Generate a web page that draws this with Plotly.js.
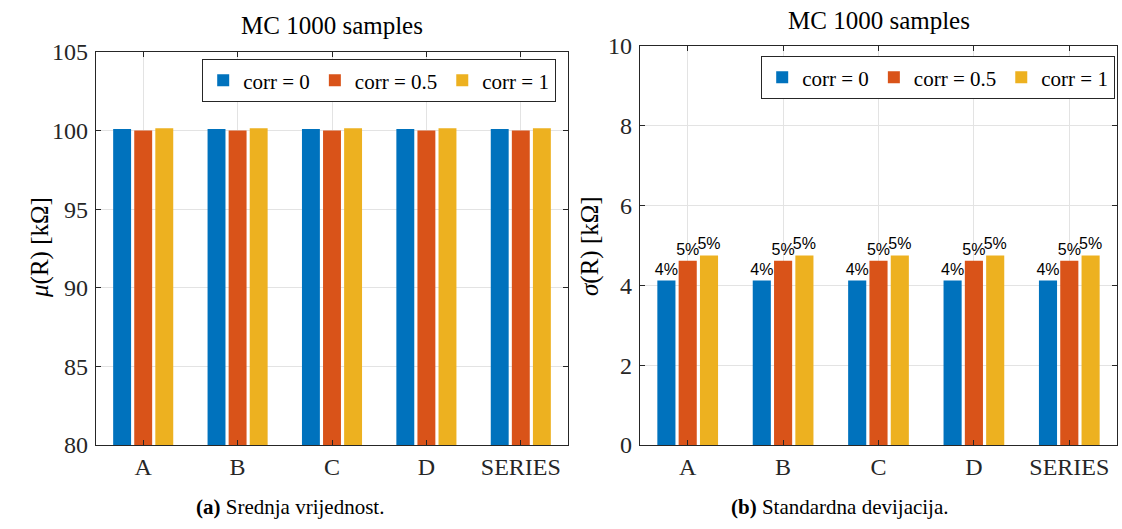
<!DOCTYPE html>
<html>
<head>
<meta charset="utf-8">
<script src="https://cdn.plot.ly/plotly-3.0.1.min.js"></script>
<style>html,body{margin:0;padding:0;background:#fff;}#chart{width:1122px;height:529px;}</style>
</head>
<body>
<div id="chart"></div>
<script>
// ---- data ----
const categories = ['A', 'B', 'C', 'D', 'SERIES'];
const seriesNames = ['corr = 0', 'corr = 0.5', 'corr = 1'];
const meanCorr0   = [100.10, 100.10, 100.10, 100.10, 100.10];
const meanCorr05  = [100.00, 100.00, 100.00, 100.00, 100.00];
const meanCorr1   = [100.15, 100.15, 100.15, 100.15, 100.15];
const stdCorr0    = [4.12, 4.12, 4.12, 4.12, 4.12];
const stdCorr05   = [4.62, 4.62, 4.62, 4.62, 4.62];
const stdCorr1    = [4.75, 4.75, 4.75, 4.75, 4.75];
const pctCorr0    = ['4%', '4%', '4%', '4%', '4%'];
const pctCorr05   = ['5%', '5%', '5%', '5%', '5%'];
const pctCorr1    = ['5%', '5%', '5%', '5%', '5%'];
const meanTicks   = [80, 85, 90, 95, 100, 105];
const stdTicks    = [0, 2, 4, 6, 8, 10];

const colors = ['#0072BD', '#D95319', '#EDB120'];
const W = 1122, H = 529;
const px = v => v / W, py = v => 1 - v / H;
const serif = "'Liberation Serif', 'Times New Roman', serif";
const sans = "'Liberation Sans', Arial, sans-serif";

const meanSets = [meanCorr0, meanCorr05, meanCorr1];
const stdSets = [stdCorr0, stdCorr05, stdCorr1];
const pctSets = [pctCorr0, pctCorr05, pctCorr1];

const traces = [];
meanSets.forEach((vals, i) => {
  traces.push({
    type: 'bar', x: categories, y: vals, name: seriesNames[i],
    xaxis: 'x', yaxis: 'y', legend: 'legend',
    marker: {color: colors[i], line: {width: 0}}, hoverinfo: 'skip'
  });
});
stdSets.forEach((vals, i) => {
  traces.push({
    type: 'bar', x: categories, y: vals, name: seriesNames[i],
    xaxis: 'x2', yaxis: 'y2', legend: 'legend2',
    text: pctSets[i], textposition: 'outside', constraintext: 'none',
    cliponaxis: false,
    textfont: {family: sans, size: 16, color: '#000'},
    marker: {color: colors[i], line: {width: 0}}, hoverinfo: 'skip'
  });
});

const axisLine = '#262626';
const gridCol = '#e3e3e3';
function xax(domain, anchor) {
  return {
    domain: domain, anchor: anchor, type: 'category',
    showline: true, linecolor: axisLine, linewidth: 1.2, mirror: 'ticks',
    ticks: 'inside', ticklen: 5, tickcolor: axisLine, tickwidth: 1,
    showgrid: true, gridcolor: gridCol, gridwidth: 1,
    tickfont: {family: serif, size: 24, color: '#262626'},
    range: [-0.5, 4.5], fixedrange: true
  };
}
function yax(domain, anchor, range, tickvals) {
  return {
    domain: domain, anchor: anchor, range: range,
    tickvals: tickvals, ticktext: tickvals.map(String),
    showline: true, linecolor: axisLine, linewidth: 1.2, mirror: 'ticks',
    ticks: 'inside', ticklen: 5, tickcolor: axisLine, tickwidth: 1,
    showgrid: true, gridcolor: gridCol, gridwidth: 1, zeroline: false,
    tickfont: {family: serif, size: 24, color: '#262626'}, ticklabelstandoff: 2,
    fixedrange: true
  };
}

const legendCommon = {
  orientation: 'h', xanchor: 'right', yanchor: 'top',
  bgcolor: '#fff', bordercolor: axisLine, borderwidth: 1.2,
  font: {family: serif, size: 21, color: '#000'},
  itemwidth: 30, tracegroupgap: 0, traceorder: 'normal'
};

function ann(text, x, y, size, extra) {
  return Object.assign({
    text: text, x: px(x), y: py(y), xref: 'paper', yref: 'paper',
    xanchor: 'center', yanchor: 'middle', showarrow: false,
    font: {family: serif, size: size, color: '#000'}
  }, extra || {});
}

const layout = {
  width: W, height: H,
  margin: {l: 0, r: 0, t: 0, b: 0},
  paper_bgcolor: '#fff', plot_bgcolor: '#fff',
  font: {family: serif},
  barmode: 'group', bargap: 0.33, bargroupgap: 0.15,
  showlegend: true,
  xaxis: xax([px(96), px(568)], 'y'),
  yaxis: yax([py(445), py(52)], 'x', [80, 105], meanTicks),
  xaxis2: xax([px(640), px(1117)], 'y2'),
  yaxis2: yax([py(445), py(46)], 'x2', [0, 10], stdTicks),
  legend: Object.assign({}, legendCommon, {x: px(556), y: py(59)}),
  legend2: Object.assign({}, legendCommon, {x: px(1115), y: py(56)}),
  annotations: [
    ann('MC 1000 samples', 332, 25, 25),
    ann('MC 1000 samples', 879, 20, 25),
    ann('<i>μ</i>(R) [kΩ]', 40, 248, 25, {textangle: -90}),
    ann('<i>σ</i>(R) [kΩ]', 590, 246, 25, {textangle: -90}),
    ann('<b>(a)</b> Srednja vrijednost.', 290, 507, 21),
    ann('<b>(b)</b> Standardna devijacija.', 840, 507, 21)
  ]
};

Plotly.newPlot('chart', traces, layout, {staticPlot: true, displayModeBar: false});
</script>
</body>
</html>
